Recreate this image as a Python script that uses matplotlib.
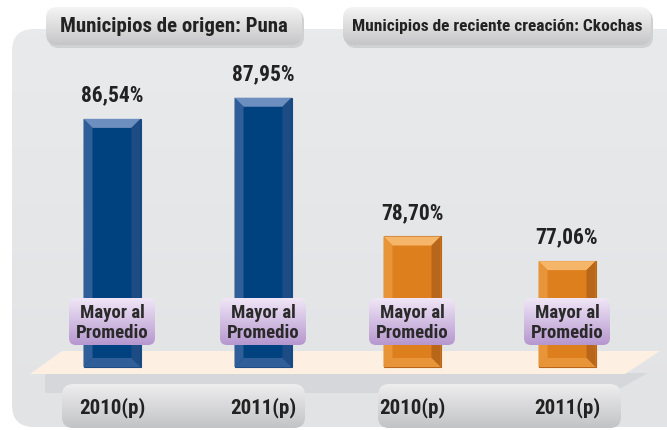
import numpy as np
import matplotlib
matplotlib.use("Agg")
import matplotlib.pyplot as plt
from matplotlib.patches import FancyBboxPatch, Polygon

plt.rcParams['font.family'] = ['Roboto Condensed', 'DejaVu Sans']

# datos
grupos = ["Municipios de origen: Puna", "Municipios de reciente creación: Ckochas"]
anios = ["2010(p)", "2011(p)", "2010(p)", "2011(p)"]
valores = [86.54, 87.95, 78.70, 77.06]
etiquetas = ["86,54%", "87,95%", "78,70%", "77,06%"]
nota = "Mayor al\nPromedio"

W, H = 667, 431
fig = plt.figure(figsize=(W / 100, H / 100), dpi=100)


def px_axes(z):
    a = fig.add_axes([0, 0, 1, 1], zorder=z)
    a.set_xlim(0, W)
    a.set_ylim(H, 0)
    a.axis("off")
    a.patch.set_alpha(0)
    return a


def pill(ax, x0, y0, w, h, c_top, c_bot, r=10, z=1):
    p = FancyBboxPatch((x0, y0), w, h, boxstyle=f"round,pad=0,rounding_size={r}",
                       fc="none", ec="none", zorder=z)
    ax.add_patch(p)
    g = np.linspace(0, 1, 64).reshape(-1, 1)
    c1 = np.array(matplotlib.colors.to_rgb(c_top))
    c2 = np.array(matplotlib.colors.to_rgb(c_bot))
    img = c1 + (c2 - c1) * g[..., None]
    im = ax.imshow(img, extent=(x0, x0 + w, y0 + h, y0), aspect="auto", zorder=z)
    im.set_clip_path(p)


bg = px_axes(0)

# panel gris
pill(bg, 12, 30, 700, 398, "#e9eaec", "#e2e3e5", r=22, z=0)

# pestañas de titulo (con sombra)
pill(bg, 48, 11, 256, 38, "#d0d1d3", "#d0d1d3", r=11, z=1)
pill(bg, 345, 11, 308, 38, "#d0d1d3", "#d0d1d3", r=11, z=1)
pill(bg, 46, 8, 256, 38, "#f4f4f4", "#c6c6c8", r=11, z=2)
pill(bg, 343, 8, 308, 38, "#f4f4f4", "#c6c6c8", r=11, z=2)
bg.text(174, 27, grupos[0], ha="center", va="center", fontsize=15, fontweight="bold", color="#222222", zorder=3)
bg.text(497, 27, grupos[1], ha="center", va="center", fontsize=12.5, fontweight="bold", color="#222222", zorder=3)

# sombra y piso
sh = Polygon([(45, 374), (648, 374), (612, 394), (45, 394)], closed=True, fc="#cfd0d3", ec="none", zorder=1, alpha=0.6)
bg.add_patch(sh)
piso = Polygon([(30, 375), (62, 352), (660, 352), (625, 375)], closed=True, fc="#fdf0e2", ec="none", zorder=2)
bg.add_patch(piso)

# pestañas de años
pill(bg, 62, 385, 243, 44, "#eeeeef", "#c2c3c5", r=11, z=2)
pill(bg, 378, 385, 243, 44, "#eeeeef", "#c2c3c5", r=11, z=2)
for x, a in zip([112, 263, 412, 567], anios):
    bg.text(x, 408, a, ha="center", va="center", fontsize=15, fontweight="bold", color="#222222", zorder=3)

# eje de datos
ax = fig.add_axes([0, 0, 1, 1], zorder=1)
ax.patch.set_alpha(0)
ax.axis("off")
base = 70
px_unit = 15.0
y_base_px = 368
ax.set_xlim(0, W)
ax.set_ylim(base - (H - y_base_px) / px_unit, base + y_base_px / px_unit)

xpos = [112, 263, 412, 567]
ancho = 57
caras = ["#00427f", "#00427f", "#dd7f1d", "#dd7f1d"]
claros = ["#6d8fbf", "#6d8fbf", "#f6b66a", "#f6b66a"]
medios = ["#2f5e98", "#2f5e98", "#e8953a", "#e8953a"]
oscuros = ["#1d4c85", "#1d4c85", "#b8661a", "#b8661a"]

bars = ax.bar(xpos, np.array(valores) - base, bottom=base, width=ancho,
              color=caras, edgecolor=oscuros, linewidth=0.8, zorder=4)
dx = 9
dy = 9 / px_unit
for b, cl, me, os in zip(bars, claros, medios, oscuros):
    x0, w = b.get_x(), b.get_width()
    y0, h = b.get_y(), b.get_height()
    x1, y1 = x0 + w, y0 + h
    ax.add_patch(Polygon([(x0, y1), (x1, y1), (x1 - dx, y1 - dy), (x0 + dx, y1 - dy)], fc=cl, ec="none", zorder=5))
    ax.add_patch(Polygon([(x0, y0), (x0, y1), (x0 + dx, y1 - dy), (x0 + dx, y0 + dy)], fc=me, ec="none", zorder=5))
    ax.add_patch(Polygon([(x1, y0), (x1, y1), (x1 - dx, y1 - dy), (x1 - dx, y0 + dy)], fc=os, ec="none", zorder=5))
    ax.add_patch(Polygon([(x0, y0), (x1, y0), (x1 - dx, y0 + dy), (x0 + dx, y0 + dy)], fc=me, ec="none", zorder=5))

for x, v, t in zip(xpos, valores, etiquetas):
    ax.text(x, v + 0.9, t, ha="center", va="bottom", fontsize=15.5, fontweight="bold", color="#222222", zorder=6)

# cajas "Mayor al Promedio"
top = px_axes(2)
for x in xpos:
    pill(top, x - 43, 299, 86, 47, "#f0e6f6", "#b697cf", r=7, z=6)
    top.text(x, 323, nota, ha="center", va="center", fontsize=13.5, fontweight="bold",
             color="#2a2a2a", linespacing=1.1, zorder=7)

fig.savefig("out.png", dpi=100)
